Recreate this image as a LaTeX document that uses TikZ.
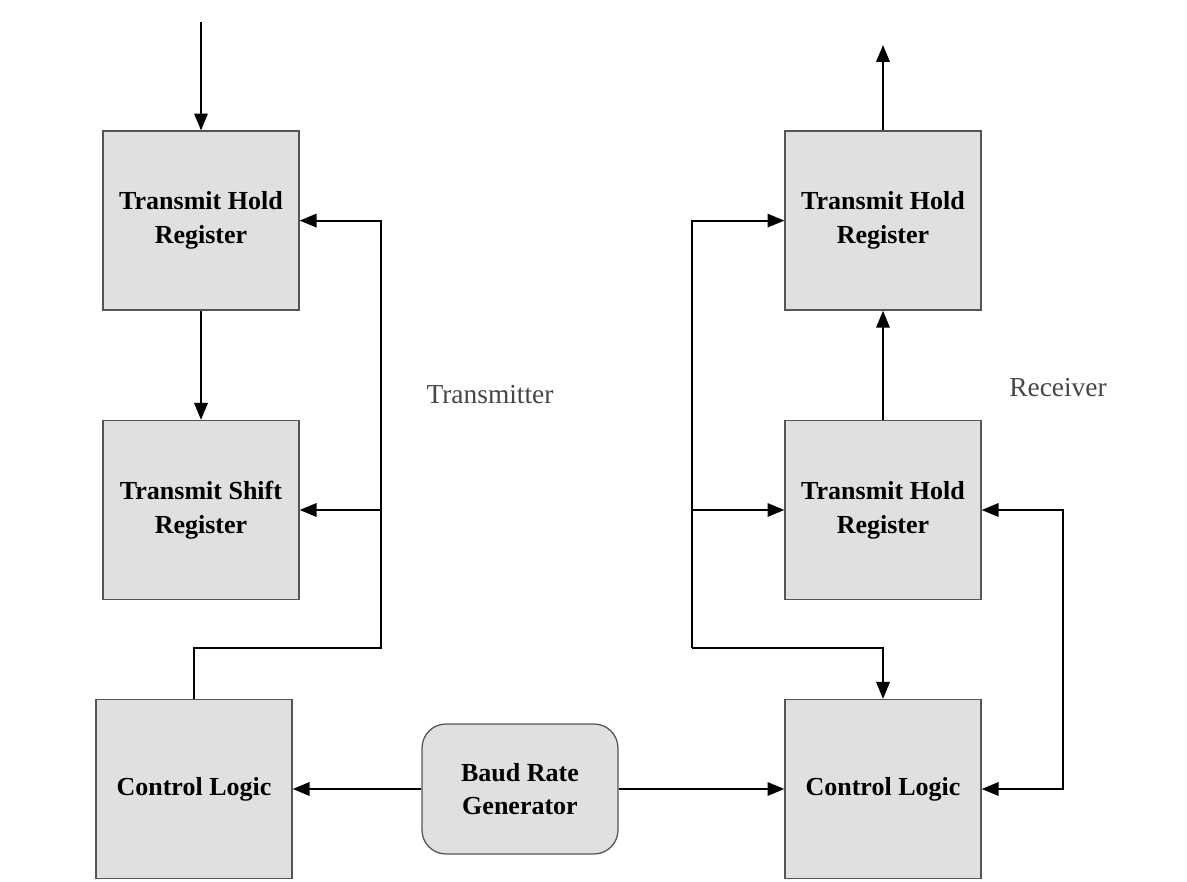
\documentclass[tikz,border=0pt]{standalone}
\usepackage{fontspec}
\setmainfont{Liberation Serif}
\usetikzlibrary{arrows.meta,positioning}
\definecolor{boxgray}{RGB}{224,224,224}
\definecolor{edgegray}{RGB}{85,85,85}
\definecolor{labelgray}{RGB}{70,70,70}
\tikzset{
  regbox/.style={draw=edgegray, fill=boxgray, line width=0.9pt, minimum width=4.9cm, minimum height=4.475cm, align=center, font=\bfseries\fontsize{18.5}{24}\selectfont},
  baudbox/.style={regbox, rounded corners=0.6cm, minimum height=3.25cm},
  link/.style={line width=1.5pt, -{Triangle[length=12pt,width=9.5pt]}},
  sidelabel/.style={text=labelgray, font=\fontsize{19.5}{24}\selectfont}
}
\begin{document}
\begin{tikzpicture}
  \useasboundingbox[fill=white] (0,0) rectangle (29.675,22.025);

  \node[regbox] (thrL) at (5.025,16.51) {Transmit Hold\\Register};
  \node[regbox] (tsrL) at (5.025,9.275) {Transmit Shift\\Register};
  \node[regbox] (ctlL) at (4.85,2.3) {Control Logic};
  \node[baudbox] (baud) at (13.0,2.3) {Baud Rate\\Generator};
  \node[regbox] (thrR) at (22.075,16.51) {Transmit Hold\\Register};
  \node[regbox] (rsrR) at (22.075,9.275) {Transmit Hold\\Register};
  \node[regbox] (ctlR) at (22.075,2.3) {Control Logic};

  \node[sidelabel] (txlabel) at (12.25,12.15) {Transmitter};
  \node[sidelabel] (rxlabel) at (26.45,12.325) {Receiver};

  \coordinate (datain) at (5.025,21.475);
  \coordinate (dataout) at (22.075,20.9);
  \coordinate (lbot) at (9.525,5.825);
  \coordinate (ltop) at (9.525,16.51);
  \coordinate (rbot) at (17.3,5.825);
  \coordinate (rtop) at (17.3,16.51);
  \coordinate (rfb) at (26.575,5.0);

  \draw[link] (datain) -- (thrL.north);
  \draw[link] (thrL) -- (tsrL);
  \draw[link] (ctlL.north) |- (lbot) -- (ltop) -- (thrL.east);
  \draw[link] (lbot |- tsrL.east) -- (tsrL.east);

  \draw[link] (baud.west) -- (ctlL.east);
  \draw[link] (baud.east) -- (ctlR.west);

  \draw[link] (rsrR) -- (thrR);
  \draw[link] (thrR.north) -- (dataout);
  \draw[link] (rbot) -- (rtop) -- (thrR.west);
  \draw[link] (rtop |- rsrR.west) -- (rsrR.west);
  \draw[link] (rbot) -| (ctlR.north);
  \draw[link, {Triangle[length=12pt,width=9.5pt]}-{Triangle[length=12pt,width=9.5pt]}] (rsrR.east) -| (rfb) |- (ctlR.east);
\end{tikzpicture}
\end{document}
